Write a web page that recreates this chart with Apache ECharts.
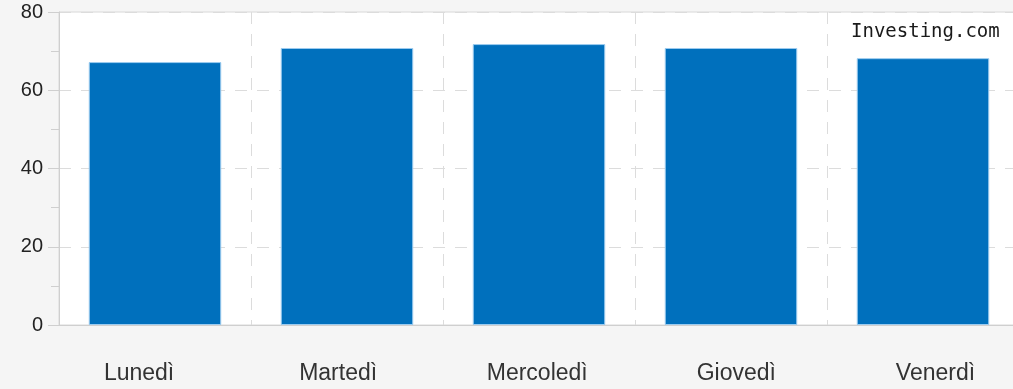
<!DOCTYPE html>
<html>
<head>
<meta charset="utf-8">
<script src="https://cdn.jsdelivr.net/npm/echarts@6/dist/echarts.min.js"></script>
<style>
  html, body { margin: 0; padding: 0; background: #f5f5f5; overflow: hidden; }
  #chart { width: 1035px; height: 389px; }
</style>
</head>
<body>
<div id="chart"></div>
<script>
// giorni della settimana
const categories = ['Lunedì', 'Martedì', 'Mercoledì', 'Giovedì', 'Venerdì']
const values = [67.2, 70.8, 71.8, 70.8, 68.2]
const yTicks = [0, 20, 40, 60, 80]

const labelFont = 'Arial, "Liberation Sans", sans-serif'
const myChart = echarts.init(document.getElementById('chart'))
const option = {
  backgroundColor: '#f5f5f5',
  animation: false,
  grid: [
    {
      left: 59,
      top: 12,
      right: 16,
      bottom: 64,
      show: true,
      backgroundColor: '#fff',
      borderColor: '#d8d8d8',
      borderWidth: 1
    },
    // griglia solo per le etichette dei giorni (un po' più larghe)
    { left: 39.5, top: 12, right: 0, bottom: 64 }
  ],
  graphic: [
    {
      type: 'text',
      left: 851,
      top: 23,
      style: {
        text: 'Investing.com',
        font: '19px "DejaVu Sans Mono", monospace',
        fill: '#1a1a1a'
      }
    }
  ],
  xAxis: [
    {
      type: 'category',
      gridIndex: 0,
      data: categories,
      axisLine: { lineStyle: { color: '#cfcfcf', width: 1 } },
      axisTick: { show: false },
      axisLabel: { show: false },
      // linee verticali tratteggiate
      splitLine: {
        show: true,
        lineStyle: { color: '#dcdcdc', type: [12, 10] }
      }
    },
    {
      type: 'category',
      gridIndex: 1,
      data: categories,
      axisLine: { show: false },
      axisTick: { show: false },
      splitLine: { show: false },
      axisLabel: {
        margin: 37,
        fontSize: 23,
        color: '#333',
        fontFamily: labelFont
      }
    }
  ],
  yAxis: [
    {
      type: 'value',
      gridIndex: 0,
      min: yTicks[0],
      max: yTicks[yTicks.length - 1],
      interval: 20,
      axisLine: { show: true, lineStyle: { color: '#cfcfcf' } },
      axisTick: { show: true, length: 11, lineStyle: { color: '#cfcfcf' } },
      minorTick: { show: true, splitNumber: 2, length: 8, lineStyle: { color: '#cfcfcf' } },
      axisLabel: {
        margin: 16,
        fontSize: 20,
        color: '#222',
        fontFamily: labelFont
      },
      splitLine: {
        lineStyle: { color: '#dcdcdc', type: [12, 10] }
      }
    },
    { type: 'value', gridIndex: 1, show: false }
  ],
  series: [
    {
      type: 'bar',
      xAxisIndex: 0,
      yAxisIndex: 0,
      data: values,
      barCategoryGap: '31%',
      itemStyle: {
        color: '#0070bd',
        borderColor: '#9ccbef',
        borderWidth: 1
      }
    }
  ]
}
myChart.setOption(option)
</script>
</body>
</html>
